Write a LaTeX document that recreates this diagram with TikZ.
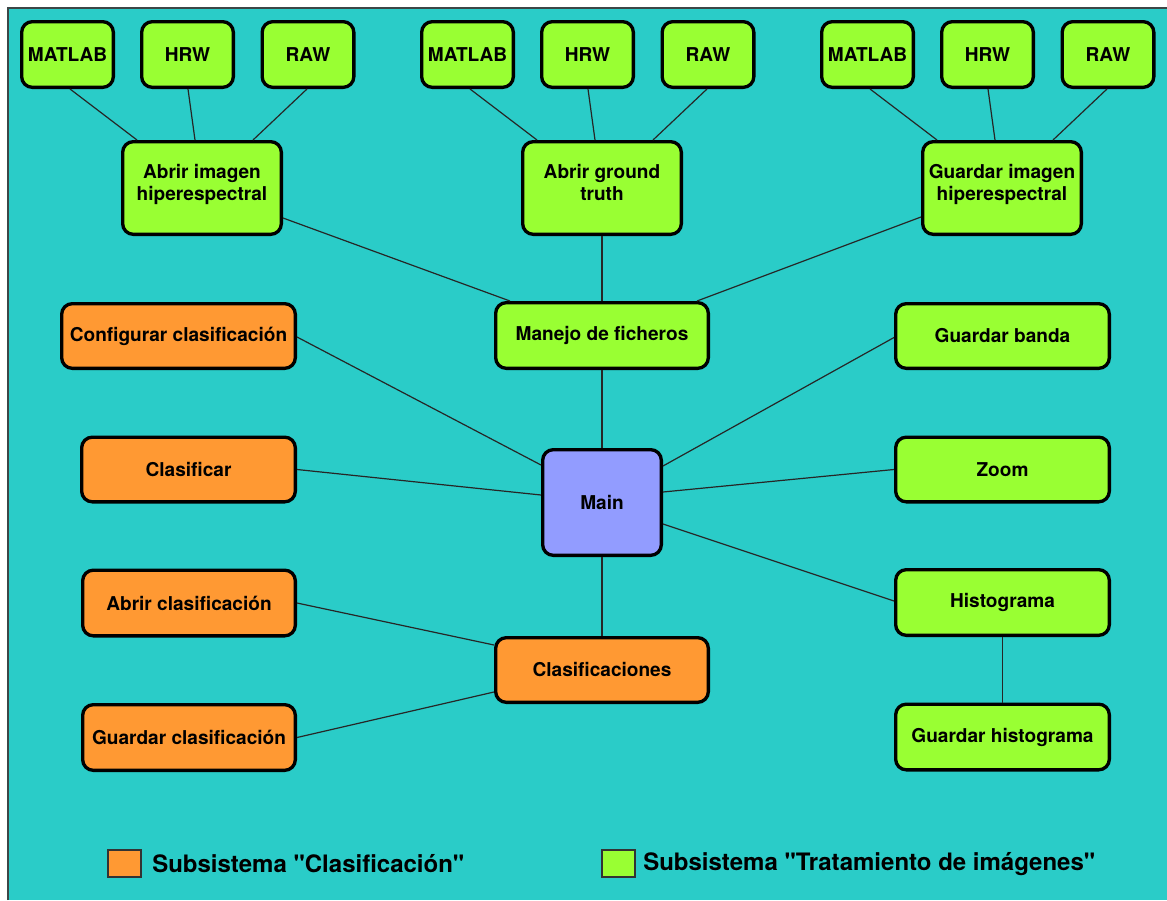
\documentclass[tikz,border=0pt]{standalone}
\usepackage{fontspec}
\setmainfont{TeX Gyre Heros}[Ligatures=TeXOff]
\usetikzlibrary{calc}
\definecolor{bgteal}{RGB}{42,204,200}
\definecolor{boxgreen}{RGB}{153,255,51}
\definecolor{boxorange}{RGB}{255,153,51}
\definecolor{boxblue}{RGB}{146,156,255}
\definecolor{frame}{RGB}{60,70,70}
\newcommand{\twoline}[2]{\raisebox{2pt}[\height][\depth]{\begin{tabular}{@{}c@{}}#1\\#2\end{tabular}}}
\begin{document}
\begin{tikzpicture}[x=0.75pt,y=-0.75pt,
  box/.style 2 args={draw=black, line width=2.5pt, rounded corners=8pt,
    minimum width={#1*0.75pt-2.5pt}, minimum height={#2*0.75pt-2.5pt},
    inner sep=1pt, font=\fontsize{14.3}{16.5}\selectfont\bfseries, text=black},
  gbox/.style 2 args={box={#1}{#2}, fill=boxgreen},
  obox/.style 2 args={box={#1}{#2}, fill=boxorange},
  bbox/.style 2 args={box={#1}{#2}, fill=boxblue},
  conn/.style={draw=black!85, line width=0.9pt},
  legsq/.style={draw=black!80, line width=0.8pt, minimum width={33*0.75pt}, minimum height={27*0.75pt}, inner sep=0pt},
  legtext/.style={anchor=west, inner sep=0pt, font=\fontsize{18}{20}\selectfont\bfseries, text=black}
]
\useasboundingbox (0,0) rectangle (1167,900);
\fill[bgteal] (8,8) rectangle (1167,900);
\draw[frame, line width=1.2pt] (8,900) -- (8,8) -- (1167,8);

% leaves
\foreach \g/\nm in {0/a,1/b,2/c}{
  \node[gbox={95}{69}] (\nm m) at (67.5+400*\g,54.5) {MATLAB};
  \node[gbox={95}{69}] (\nm h) at (187.5+400*\g,54.5) {HRW};
  \node[gbox={95}{69}] (\nm r) at (308+400*\g,54.5) {RAW};
}
\node[gbox={162}{96}] (a1) at (202,188) {\twoline{Abrir imagen}{hiperespectral}};
\node[gbox={162}{96}] (a2) at (602,188) {\twoline{Abrir ground}{truth}};
\node[gbox={162}{96}] (a3) at (1002,188) {\twoline{Guardar imagen}{hiperespectral}};

\node[gbox={216}{69}] (mf) at (602,335.5) {Manejo de ficheros};
\node[bbox={122}{109}] (main) at (602,502.5) {Main};
\node[obox={216}{68}] (cl) at (602,670) {Clasificaciones};

\node[obox={237}{68}] (cc) at (178.5,336) {Configurar clasificación};
\node[obox={217}{68}] (cf) at (188.5,469.5) {Clasificar};
\node[obox={216}{69}] (ac) at (189,603) {Abrir clasificación};
\node[obox={216}{69}] (gc) at (189,737.5) {Guardar clasificación};

\node[gbox={217}{68}] (gb) at (1002.5,336) {Guardar banda};
\node[gbox={217}{68}] (zm) at (1002.5,469.5) {Zoom};
\node[gbox={217}{69}] (hi) at (1002.5,602.5) {Histograma};
\node[gbox={217}{69}] (gh) at (1002.5,737) {Guardar histograma};

% leaf connectors
\foreach \nm/\p in {a/a1,b/a2,c/a3}{
  \draw[conn] ($(\nm m.south)+(2.5,0)$) -- ($(\p.north)+(-65,0)$);
  \draw[conn] ($(\nm h.south)+(0.5,0)$) -- ($(\p.north)+(-7,0)$);
  \draw[conn] ($(\nm r.south)+(-1,0)$) -- ($(\p.north)+(51,0)$);
}
\draw[conn] ($(a1.east)+(0,30)$) -- ($(mf.north)+(-92,0)$);
\draw[conn] (a2.south) -- (mf.north);
\draw[conn] ($(a3.west)+(0,29)$) -- ($(mf.north)+(95,0)$);

\draw[conn] (mf.south) -- (main.north);
\draw[conn] (main.south) -- (cl.north);
\draw[conn] ($(cc.east)+(0,1)$) -- ($(main.west)+(0,-37.5)$);
\draw[conn] (cf.east) -- ($(main.west)+(0,-7.5)$);
\draw[conn] ($(main.east)+(0,-36.5)$) -- ($(gb.west)+(0,1.5)$);
\draw[conn] ($(main.east)+(0,-10.5)$) -- (zm.west);
\draw[conn] ($(main.east)+(0,21.5)$) -- ($(hi.west)+(0,-1.5)$);
\draw[conn] (ac.east) -- ($(cl.west)+(0,-25)$);
\draw[conn] (gc.east) -- ($(cl.west)+(0,22)$);
\draw[conn] (hi.south) -- (gh.north);

% legend
\node[legsq, fill=boxorange] (lo) at (124.5,863.5) {};
\node[legtext] (lot) at (152,864) {Subsistema "Clasificación"};
\node[legsq, fill=boxgreen] (lg) at (618.5,863.5) {};
\node[legtext] (lgt) at (643,864) {Subsistema "Tratamiento de imágenes"};
\end{tikzpicture}
\end{document}
